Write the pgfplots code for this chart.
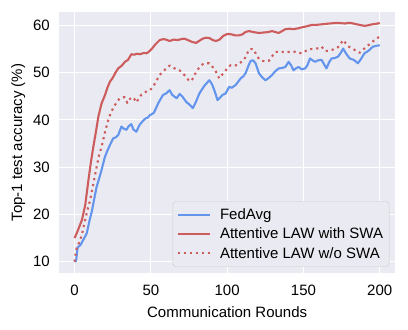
\documentclass[border=0pt]{standalone}
\usepackage{fontspec}
\setmainfont{Liberation Sans}
\usepackage{pgfplots}
\pgfplotsset{compat=1.18}
\definecolor{bg}{RGB}{234,234,242}
\definecolor{cblue}{RGB}{100,149,237}
\definecolor{ired}{RGB}{205,92,92}
\newcommand{\fs}{\fontsize{15bp}{18bp}\selectfont}
\begin{document}
\begin{tikzpicture}
\path[use as bounding box] (-59.3bp,-56.7bp) rectangle (348.7bp,273.3bp);
\begin{axis}[
  at={(0,0)}, anchor=south west, scale only axis,
  width=335.7bp, height=261.6bp,
  xmin=-10, xmax=210, ymin=7.55, ymax=62.9,
  axis background/.style={fill=bg},
  axis line style={draw=none},
  grid=major, major grid style={white, line width=1.1bp},
  tick style={draw=none},
  xtick={0,50,...,200}, ytick={10,20,...,60},
  ticklabel style={font=\fs},
  /pgf/number format/assume math mode=true,
  xticklabel style={yshift=-8bp},
  yticklabel style={xshift=-6bp},
  xlabel={Communication Rounds}, ylabel={Top-1 test accuracy (\%)},
  xlabel style={font=\fs, at={(axis description cs:0.5,-0.1468)}, anchor=center},
  ylabel style={font=\fs, at={(axis description cs:-0.1221,0.5)}, anchor=center},
  legend style={font=\fs, at={(axis description cs:1,0)}, anchor=south east,
    xshift=-5.7bp, yshift=6.6bp, draw=black!20, fill=bg, rounded corners=3bp,
    inner xsep=4bp, inner ysep=5bp, row sep=3bp, column sep=7bp},
  legend cell align=left,
  legend image code/.code={\draw[#1] (0bp,0bp) -- (32bp,0bp);},
  every axis plot/.append style={line width=2.1bp, line join=round},
]
\addplot[cblue] coordinates {
(0,10) (1,10.2) (2,13) (4,13.6) (6,14.8) (8,16) (10,19) (11.3,20.6) (13,23.5) (14.5,25.9)
(16,27.5) (17.7,29.4) (19.9,32.2) (21.5,33.5) (23.2,34.7) (25.3,36.1) (27,36.3) (28.6,36.8)
(30.7,38.6) (32,38.2) (34,37.9) (35.5,38.7) (37.2,39.1) (38.5,38) (40.5,37.5) (42.5,38.9)
(44.8,39.8) (46.5,40.3) (48,40.5) (49.4,41) (52,41.5) (54.8,43.5) (56.5,44.5) (58,45.3)
(60,45.6) (62.3,46.3) (64,45.3) (65.6,44.9) (67,44.6) (68.8,45.5) (70.5,45) (73.2,43.8)
(75.5,43.2) (77.5,42.5) (79.5,43.8) (81.8,45.6) (85,47.2) (88.3,48.4) (90,47.6) (91.6,46.3)
(93.7,44.2) (95,44.6) (97,45.3) (99,45.6) (101.3,47) (103,46.8) (105.6,47.4) (107.5,48.2)
(108.9,48.8) (110.5,49.2) (112.1,49.9) (114,51.5) (115.4,52.5) (117,52.6) (118.6,52)
(120.8,49.9) (123,49) (125.1,48.4) (127,48.8) (129.4,49.5) (131.5,50.3) (133.8,50.9)
(136,51) (138.1,51.2) (140.3,52.3) (142,51.5) (143.5,50.5) (145,50.9) (146.8,51.2)
(149,50.7) (151.1,50.9) (152.5,51.5) (154.3,53) (156,52.6) (157.6,52.3) (159.5,52.6)
(161.9,52.7) (163.5,51.8) (165.1,50.9) (166.8,52.2) (168.4,53) (170.5,53.1) (172.7,53.4)
(174.5,54.2) (176,55.1) (178,54) (180.3,53) (183,52.7) (185.7,52) (187.5,52.8) (190,54.1)
(192.5,54.6) (195.5,55.5) (198,55.7) (200,55.8)
};
\addlegendentry{FedAvg}
\addplot[ired] coordinates {
(0,15) (2,16.5) (4.8,18.8) (7,22) (9.1,27.3) (10.7,31) (12.3,34.3) (14,37.5) (15.6,40.7)
(17.7,43.5) (20,45.3) (21.5,46.8) (23.2,48.1) (25,48.9) (26.8,50) (28.6,50.9) (31,51.5)
(33,52.3) (35,52.7) (37.2,53.9) (39,53.8) (41,54) (43,53.9) (45.5,54.2) (47.2,54.1)
(49,54.5) (51,55.2) (53,56) (55.8,56.9) (58,57.1) (60,57) (62.3,56.7) (65,57) (67.5,56.9)
(69.9,57.1) (72,57.2) (75,56.8) (77,56.5) (79.7,56.3) (82,56.8) (84,57.2) (86.2,57.4)
(88.5,57.3) (90.5,56.9) (92.7,56.7) (95,57) (97.5,57.8) (100.2,58.2) (103,58.1) (105,57.9)
(107.8,57.9) (110,58.1) (112,58.6) (114.3,58.8) (117,58.6) (120.8,58.4) (124,58.5)
(127,58.6) (129.4,58.8) (131.5,58.6) (133.8,58.4) (136,58.8) (138.1,59.2) (141,59.3)
(143.5,59.2) (146.8,59.4) (149,59.6) (152,59.8) (155.4,60.1) (158,60.1) (161,60.2)
(164.1,60.3) (167,60.4) (170.6,60.5) (174,60.5) (177,60.4) (179,60.5) (181.4,60.5)
(184,60.3) (187,60.1) (190,59.9) (192,60) (194.5,60.2) (197,60.3) (200,60.5)
};
\addlegendentry{Attentive LAW with SWA}
\addplot[ired, dash pattern=on 2.2bp off 3.8bp] coordinates {
(0,10) (1,12.5) (3.7,14.6) (5,16) (6.9,18.8) (8.5,21) (10.2,23) (12.3,26.5) (14.5,30.1)
(16,32.5) (17.7,34.3) (20,37.5) (22.1,40) (23.5,41.3) (25.3,42.5) (27.5,43.7) (29.7,44.6)
(31.3,44.8) (32.9,44.8) (34.6,43.6) (36,44.3) (37.2,44.8) (39,44.5) (40.5,43.7) (42,44.5)
(43.7,45.3) (45.5,45.6) (48,46.3) (50,46.5) (51.5,47) (53.5,48.2) (55.8,49.5) (58,50.3)
(60.2,50.9) (62.3,51.5) (64,51.2) (65.6,50.9) (68.8,50.5) (71,49.8) (73.2,49.1) (74.5,48.5)
(76.4,48.2) (78,49) (79.7,50.2) (82,51.2) (84,51.8) (86,52) (88.3,52) (90.5,51.2)
(92.7,50.2) (94.8,48.8) (97,49.7) (99.1,50.5) (100.8,51.2) (102.4,51.6) (104.5,51.5)
(106.7,51.6) (109,52.2) (111,52.7) (112.8,53.8) (114.3,54.9) (116,55) (117.5,54.9)
(119.7,53.4) (121.3,52.8) (122.9,52.5) (125,52.4) (127.3,52.5) (129.5,53.5) (131.6,54.4)
(134,54.4) (135.9,54.4) (138,54.3) (140.3,54.4) (142.5,54.5) (144.6,54.4) (146.8,54.2)
(148.9,54.1) (151,54.5) (153.2,54.9) (155.5,55) (157.6,55) (159.8,55.2) (161.9,55.5)
(164.1,54.6) (166.2,54.6) (168.4,54.8) (170.5,55) (172.7,55.4) (174.5,56.2) (176,56.9)
(177.5,56.3) (179.2,55.6) (181.5,55.2) (183.6,54.8) (185.3,54.5) (186.8,54.2) (189,54.8)
(191.1,55.5) (193.3,56) (195.5,56.6) (197,57) (198.7,57.4) (200,57.5)
};
\addlegendentry{Attentive LAW w/o SWA}
\end{axis}
\end{tikzpicture}
\end{document}
